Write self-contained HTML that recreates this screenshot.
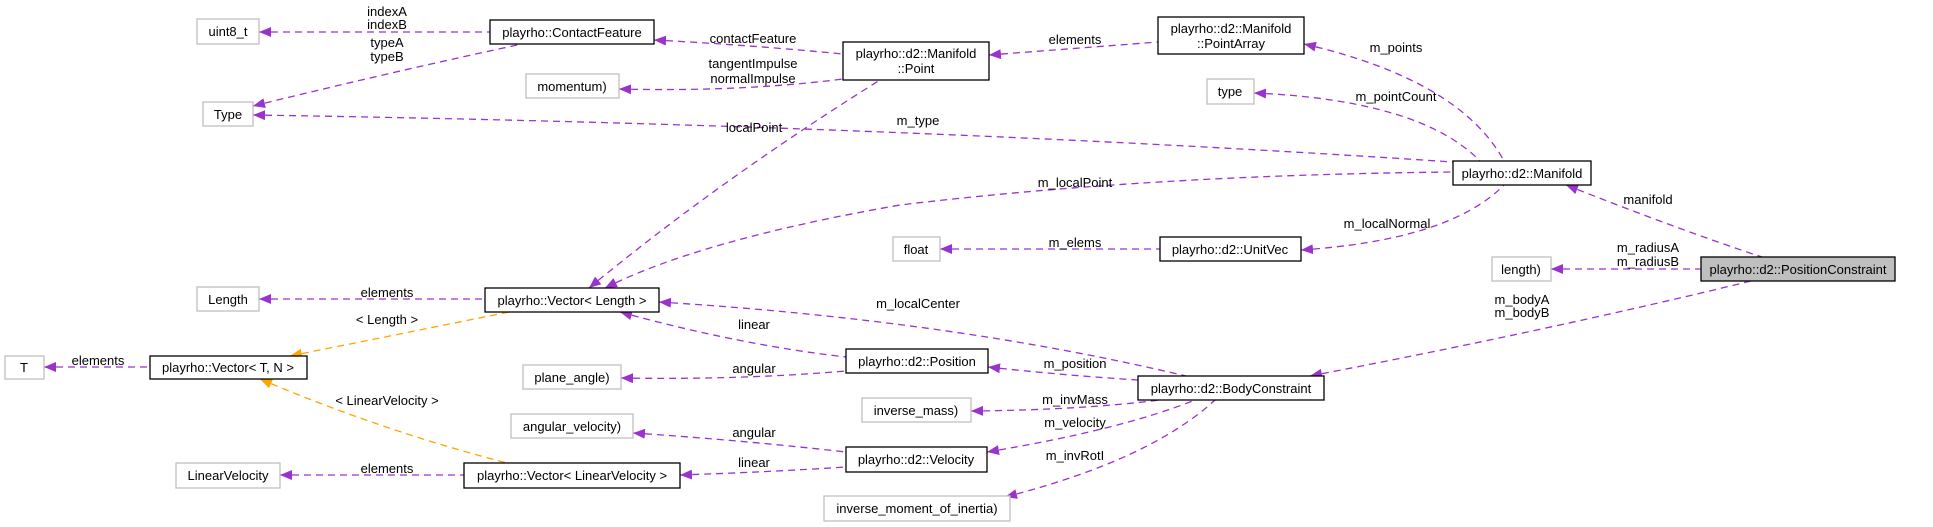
<!DOCTYPE html>
<html><head><meta charset="utf-8"><style>
html,body{margin:0;padding:0;background:#fff;}
svg{display:block;}
text{font-family:"Liberation Sans",Arial,sans-serif;font-size:13px;fill:#000;}
.n{fill:#fff;stroke:#000;stroke-width:1.3;}
.g{fill:#fff;stroke:#bfbfbf;stroke-width:1.3;}
.e{fill:none;stroke:#9a32cd;stroke-width:1.3;stroke-dasharray:7,5;marker-start:url(#ap);}
.o{fill:none;stroke:#ffa500;stroke-width:1.3;stroke-dasharray:7,5;marker-start:url(#ao);}
</style></head><body>
<svg width="1933" height="527" viewBox="0 0 1933 527" xmlns="http://www.w3.org/2000/svg">
<defs>
<marker id="ap" viewBox="0 0 12 10" refX="0" refY="5" markerWidth="12" markerHeight="10" markerUnits="userSpaceOnUse" orient="auto"><path d="M0,5 L12,0 L12,10 z" fill="#9a32cd"/></marker>
<marker id="ao" viewBox="0 0 12 10" refX="0" refY="5" markerWidth="12" markerHeight="10" markerUnits="userSpaceOnUse" orient="auto"><path d="M0,5 L12,0 L12,10 z" fill="#ffa500"/></marker>
</defs>

<path class="e" d="M259,32 L490,32"/>
<path class="e" d="M253,106 Q400,70 522,44"/>
<path class="e" d="M654,40 Q750,45 843,54"/>
<path class="e" d="M619,89 Q740,92 843,79"/>
<path class="e" d="M989,55 L1158,42"/>
<path class="e" d="M589,288 Q720,180 880,80"/>
<path class="e" d="M1304,44 Q1460,80 1504,161"/>
<path class="e" d="M1254,93 Q1420,100 1480,161"/>
<path class="e" d="M253,115 Q900,125 1453,162"/>
<path class="e" d="M605,288 Q700,240 900,205 Q1150,175 1453,172"/>
<path class="e" d="M940,249 L1160,249"/>
<path class="e" d="M1301,250 Q1450,240 1504,185"/>
<path class="e" d="M1566,185 Q1680,230 1762,257"/>
<path class="e" d="M1551,269 L1701,269"/>
<path class="e" d="M1310,376 Q1550,330 1751,281"/>
<path class="e" d="M259,299 L485,299"/>
<path class="e" d="M44,367 L150,367"/>
<path class="e" d="M280,475 L464,475"/>
<path class="o" d="M290,356 Q420,330 509,312"/>
<path class="o" d="M260,379 Q380,430 507,463"/>
<path class="e" d="M659,302 Q950,320 1186,376"/>
<path class="e" d="M620,312 Q740,345 846,357"/>
<path class="e" d="M621,378 Q740,380 846,371"/>
<path class="e" d="M988,367 Q1060,375 1138,380"/>
<path class="e" d="M971,411 Q1080,410 1160,400"/>
<path class="e" d="M987,452 Q1120,430 1195,400"/>
<path class="e" d="M1005,497 Q1150,460 1215,400"/>
<path class="e" d="M633,433 Q740,440 846,452"/>
<path class="e" d="M680,475 Q770,472 846,467"/>

<rect class="g" x="197" y="19" width="62" height="25"/><text x="228" y="36" text-anchor="middle">uint8_t</text>
<rect class="n" x="490" y="20" width="164" height="24"/><text x="572" y="37" text-anchor="middle">playrho::ContactFeature</text>
<rect class="g" x="203" y="102" width="50" height="24"/><text x="228" y="119" text-anchor="middle">Type</text>
<rect class="g" x="526" y="74" width="93" height="24"/><text x="572" y="91" text-anchor="middle">momentum)</text>
<rect class="n" x="843" y="42" width="146" height="38"/><text x="916" y="58" text-anchor="middle">playrho::d2::Manifold</text><text x="916" y="73" text-anchor="middle">::Point</text>
<rect class="n" x="1158" y="17" width="146" height="37"/><text x="1231" y="33" text-anchor="middle">playrho::d2::Manifold</text><text x="1231" y="48" text-anchor="middle">::PointArray</text>
<rect class="g" x="1207" y="79" width="47" height="25"/><text x="1230" y="96" text-anchor="middle">type</text>
<rect class="n" x="1453" y="161" width="138" height="24"/><text x="1522" y="178" text-anchor="middle">playrho::d2::Manifold</text>
<rect class="g" x="893" y="237" width="47" height="24"/><text x="916" y="254" text-anchor="middle">float</text>
<rect class="n" x="1160" y="237" width="141" height="24"/><text x="1230" y="254" text-anchor="middle">playrho::d2::UnitVec</text>
<rect class="g" x="1492" y="257" width="59" height="24"/><text x="1521" y="274" text-anchor="middle">length)</text>
<rect x="1701" y="257" width="194" height="24" fill="#bfbfbf" stroke="#000" stroke-width="1.3"/><text x="1798" y="274" text-anchor="middle">playrho::d2::PositionConstraint</text>
<rect class="g" x="197" y="287" width="62" height="24"/><text x="228" y="304" text-anchor="middle">Length</text>
<rect class="n" x="485" y="288" width="174" height="24"/><text x="572" y="305" text-anchor="middle">playrho::Vector&lt; Length &gt;</text>
<rect class="g" x="5" y="356" width="39" height="23"/><text x="24" y="372" text-anchor="middle">T</text>
<rect class="n" x="150" y="356" width="157" height="23"/><text x="228" y="372" text-anchor="middle">playrho::Vector&lt; T, N &gt;</text>
<rect class="g" x="523" y="365" width="98" height="24"/><text x="572" y="382" text-anchor="middle">plane_angle)</text>
<rect class="n" x="846" y="349" width="142" height="24"/><text x="917" y="366" text-anchor="middle">playrho::d2::Position</text>
<rect class="n" x="1138" y="376" width="186" height="24"/><text x="1231" y="393" text-anchor="middle">playrho::d2::BodyConstraint</text>
<rect class="g" x="862" y="398" width="109" height="24"/><text x="916" y="415" text-anchor="middle">inverse_mass)</text>
<rect class="g" x="511" y="414" width="122" height="24"/><text x="572" y="431" text-anchor="middle">angular_velocity)</text>
<rect class="n" x="846" y="447" width="141" height="25"/><text x="916" y="464" text-anchor="middle">playrho::d2::Velocity</text>
<rect class="g" x="176" y="463" width="104" height="25"/><text x="228" y="480" text-anchor="middle">LinearVelocity</text>
<rect class="n" x="464" y="463" width="216" height="25"/><text x="572" y="480" text-anchor="middle">playrho::Vector&lt; LinearVelocity &gt;</text>
<rect class="g" x="824" y="496" width="186" height="25"/><text x="917" y="513" text-anchor="middle">inverse_moment_of_inertia)</text>

<g text-anchor="middle">
<text x="387" y="16">indexA</text><text x="387" y="29">indexB</text>
<text x="387" y="47">typeA</text><text x="387" y="61">typeB</text>
<text x="753" y="43">contactFeature</text>
<text x="753" y="68">tangentImpulse</text><text x="753" y="83">normalImpulse</text>
<text x="754" y="132">localPoint</text>
<text x="1075" y="44">elements</text>
<text x="1396" y="52">m_points</text>
<text x="1396" y="101">m_pointCount</text>
<text x="918" y="125">m_type</text>
<text x="1075" y="187">m_localPoint</text>
<text x="1075" y="247">m_elems</text>
<text x="1387" y="228">m_localNormal</text>
<text x="1648" y="204">manifold</text>
<text x="1648" y="252">m_radiusA</text><text x="1648" y="266">m_radiusB</text>
<text x="1522" y="304">m_bodyA</text><text x="1522" y="317">m_bodyB</text>
<text x="387" y="297">elements</text>
<text x="387" y="324">&lt; Length &gt;</text>
<text x="98" y="365">elements</text>
<text x="387" y="405">&lt; LinearVelocity &gt;</text>
<text x="387" y="473">elements</text>
<text x="918" y="308">m_localCenter</text>
<text x="754" y="329">linear</text>
<text x="754" y="373">angular</text>
<text x="1075" y="368">m_position</text>
<text x="1075" y="404">m_invMass</text>
<text x="1075" y="427">m_velocity</text>
<text x="1075" y="460">m_invRotI</text>
<text x="754" y="437">angular</text>
<text x="754" y="467">linear</text>
</g>
</svg>
</body></html>
